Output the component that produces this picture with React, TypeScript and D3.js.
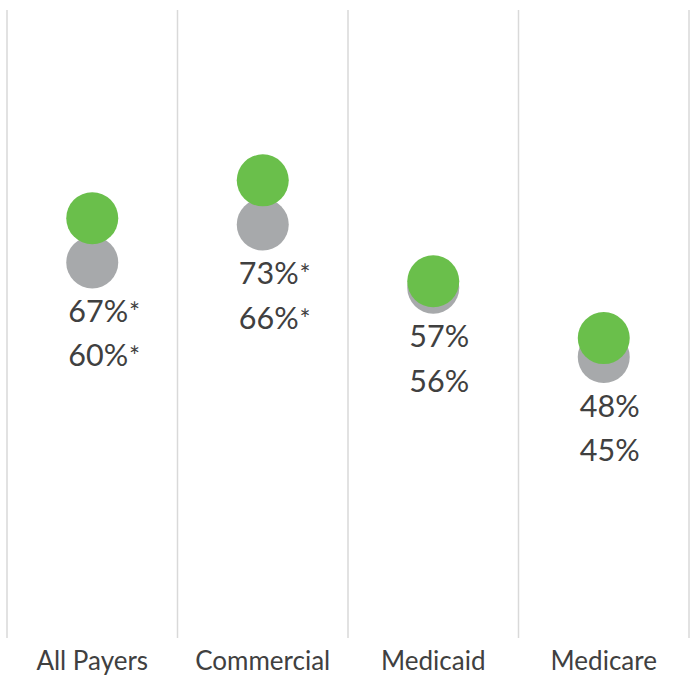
import React from "react";
import * as d3 from "d3";

const categories = ["All Payers", "Commercial", "Medicaid", "Medicare"];
const seriesGreen = [67, 73, 57, 48];
const seriesGray = [60, 66, 56, 45];
const significant = [true, true, false, false];

const W = 691;
const H = 676;

export default function App() {
  const x = d3.scaleBand<string>().domain(categories).range([7, 689]);
  const y = d3.scaleLinear().domain([0, 100]).range([641, 10]);
  const font = "Lato, 'Open Sans', sans-serif";
  const textColor = "#404040";
  const gridX = [...categories.map((c) => x(c)!), 689];

  return (
    <svg
      width={W}
      height={H}
      style={{ position: "absolute", left: 0, top: 0 }}
      fontFamily={font}
    >
      <rect width={W} height={H} fill="#ffffff" />
      {gridX.map((gx, i) => (
        <line
          key={i}
          x1={gx}
          x2={gx}
          y1={10}
          y2={638}
          stroke="#d9d9d9"
          strokeWidth={1.5}
        />
      ))}
      {categories.map((c, i) => {
        const cx = x(c)! + x.bandwidth() / 2;
        const gy = y(seriesGray[i]);
        const gr = y(seriesGreen[i]);
        const lowY = Math.max(gy, gr);
        return (
          <g key={c}>
            <circle cx={cx} cy={gy} r={26} fill="#a7a9ab" />
            <circle cx={cx} cy={gr} r={26} fill="#6abf4b" />
            <text x={cx - 24} y={lowY + 59.5} fontSize={30.5} fill={textColor}>
              {seriesGreen[i]}%
              {significant[i] && <tspan fontSize={26} dx={1}>*</tspan>}
            </text>
            <text x={cx - 24} y={lowY + 104} fontSize={30.5} fill={textColor}>
              {seriesGray[i]}%
              {significant[i] && <tspan fontSize={26} dx={1}>*</tspan>}
            </text>
            <text
              x={cx}
              y={670}
              textAnchor="middle"
              fontSize={26}
              fill={textColor}
            >
              {c}
            </text>
          </g>
        );
      })}
    </svg>
  );
}
